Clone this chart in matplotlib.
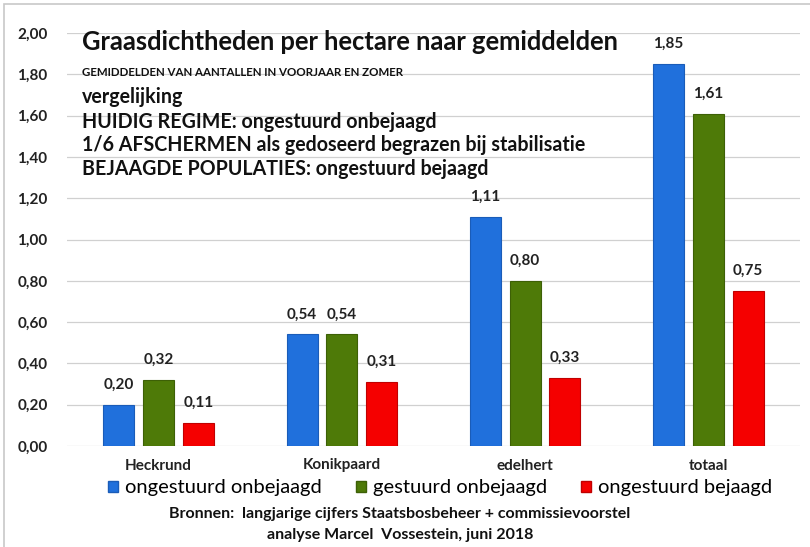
import matplotlib
matplotlib.use("Agg")
import matplotlib.pyplot as plt
import numpy as np
from matplotlib.patches import Rectangle

categories = ["Heckrund", "Konikpaard", "edelhert", "totaal"]
series_names = ["ongestuurd onbejaagd", "gestuurd onbejaagd", "ongestuurd bejaagd"]
ongestuurd_onbejaagd = [0.20, 0.54, 1.11, 1.85]
gestuurd_onbejaagd = [0.32, 0.54, 0.80, 1.61]
ongestuurd_bejaagd = [0.11, 0.31, 0.33, 0.75]
yticks = [0.0, 0.2, 0.4, 0.6, 0.8, 1.0, 1.2, 1.4, 1.6, 1.8, 2.0]

colors = ["#2070dc", "#4e7a08", "#f50000"]
edges = ["#1a5cb8", "#3d6006", "#c00000"]

plt.rcParams['font.family'] = ['Lato', 'DejaVu Sans']

fig = plt.figure(figsize=(8.10, 5.47), dpi=100)
ax = fig.add_axes([67/810, 1-446/547, (800-67)/810, (446-33)/547])

x = np.arange(len(categories))
w = 0.168
step = 0.217
data = [ongestuurd_onbejaagd, gestuurd_onbejaagd, ongestuurd_bejaagd]
for i, vals in enumerate(data):
    pos = x + (i-1)*step
    ax.bar(pos, vals, width=w, color=colors[i], edgecolor=edges[i], linewidth=0.8, zorder=3)
    for p, v in zip(pos, vals):
        ax.annotate(f"{v:.2f}".replace('.', ','), (p, v), xytext=(0, 14.4),
                    textcoords='offset points', ha='center', va='center',
                    fontsize=11, fontweight='bold', color='#222222')

ax.set_xlim(-0.5, 3.5)
ax.set_ylim(0, 2.0)
ax.set_yticks(yticks)
ax.set_yticklabels([f"{t:.2f}".replace('.', ',') for t in yticks], fontsize=11,
                   fontweight='bold', color='#222222')
ax.grid(axis='y', color='#d0d0d0', linewidth=0.9, zorder=0)
ax.set_xticks(x)
ax.set_xticklabels(categories, fontsize=11, fontweight='bold', color='#222222')
ax.tick_params(axis='both', length=0)
ax.tick_params(axis='x', pad=9)
ax.tick_params(axis='y', pad=14)
for s in ax.spines.values():
    s.set_visible(False)

# text block
fig.text(82/810, 1-42/547, "Graasdichtheden per hectare naar gemiddelden", fontsize=18.4,
         fontweight='bold', color='#111111', va='center', ha='left')
fig.text(82/810, 1-73/547, "GEMIDDELDEN VAN AANTALLEN IN VOORJAAR EN ZOMER", fontsize=8.25,
         fontweight='bold', color='#111111', va='center', ha='left')
for yy, t in [(97, "vergelijking"), (122, "HUIDIG REGIME: ongestuurd onbejaagd"),
              (145, "1/6 AFSCHERMEN als gedoseerd begrazen bij stabilisatie"),
              (169, "BEJAAGDE POPULATIES: ongestuurd bejaagd")]:
    fig.text(82/810, 1-yy/547, t, fontsize=14.1, fontweight='bold', color='#111111',
             va='center', ha='left')

# legend
handles = [Rectangle((0, 0), 1, 1, facecolor=colors[i], edgecolor=edges[i]) for i in range(3)]
fig.legend(handles, series_names, loc='center', bbox_to_anchor=(440/810, 1-488/547), ncol=3,
           frameon=False, fontsize=14.5, handlelength=0.5, handleheight=0.5, handletextpad=0.35,
           columnspacing=1.7)

fig.text(400/810, 1-514/547, "Bronnen:  langjarige cijfers Staatsbosbeheer + commissievoorstel",
         fontsize=11.5, fontweight='bold', ha='center', va='center', color='#111111')
fig.text(400/810, 1-535/547, "analyse Marcel  Vossestein, juni 2018",
         fontsize=11.5, fontweight='bold', ha='center', va='center', color='#111111')

# frame
fig.patches.append(Rectangle((4/810, -0.01), 1.1, 1-4/547+0.01, transform=fig.transFigure,
                             fill=False, edgecolor='#c8c8c8', linewidth=1.2))

fig.savefig("out.png", dpi=100)
